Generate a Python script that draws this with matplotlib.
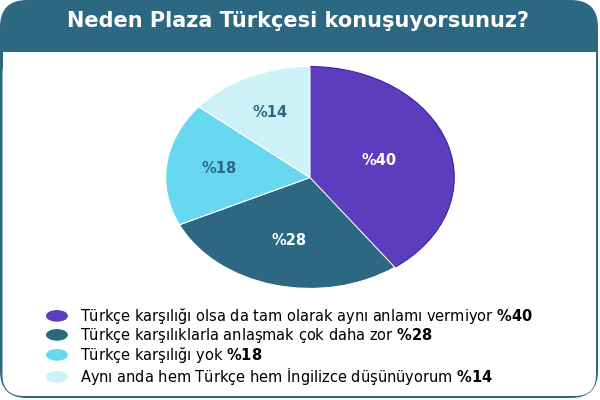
import numpy as np
import matplotlib.pyplot as plt
from matplotlib.patches import FancyBboxPatch, Rectangle, Ellipse
from matplotlib.legend_handler import HandlerPatch

plt.rcParams['font.family'] = ['DejaVu Sans']
plt.rcParams['mathtext.fontset'] = 'custom'
plt.rcParams['mathtext.rm'] = 'DejaVu Sans'
plt.rcParams['mathtext.bf'] = 'DejaVu Sans:bold'

title = "Neden Plaza Türkçesi konuşuyorsunuz?"
reasons = [
    "Türkçe karşılığı olsa da tam olarak aynı anlamı vermiyor",
    "Türkçe karşılıklarla anlaşmak çok daha zor",
    "Türkçe karşılığı yok",
    "Aynı anda hem Türkçe hem İngilizce düşünüyorum",
]
shares = [40, 28, 18, 14]
colors = ["#5C3DBE", "#2D6882", "#67D8F0", "#CCF2F8"]
label_colors = ["white", "white", "#2D6882", "#2D6882"]

W, H = 600, 400
fig = plt.figure(figsize=(6, 4), dpi=100)
fig.patch.set_facecolor("white")


def box(x0, y0, x1, y1):
    # pixel box (top-left origin) -> figure fractions
    return x0 / W, 1 - y1 / H, (x1 - x0) / W, (y1 - y0) / H


# card: teal outer shape, white body on top
x, y, w, h = box(0, 0, 598, 398)
fig.patches.append(FancyBboxPatch((x, y), w, h, boxstyle="round,pad=0,rounding_size=0.045",
                                  transform=fig.transFigure, facecolor="#2D6882",
                                  edgecolor="none", mutation_aspect=1.5, zorder=-3))
x, y, w, h = box(2.5, 52, 596, 396)
fig.patches.append(FancyBboxPatch((x, y), w, h, boxstyle="round,pad=0,rounding_size=0.035",
                                  transform=fig.transFigure, facecolor="white",
                                  edgecolor="none", mutation_aspect=1.5, zorder=-2))
x, y, w, h = box(2.5, 52, 596, 100)
fig.patches.append(Rectangle((x, y), w, h, transform=fig.transFigure,
                             facecolor="white", edgecolor="none", zorder=-2))
fig.text(0.497, 1 - 21 / H, title, color="white", fontsize=15, fontweight="bold",
         ha="center", va="center")

# pie (stretched ellipse)
ax = fig.add_axes(box(165, 66, 455, 289))
ax.set_zorder(2)
wedges, texts, autotexts = ax.pie(
    shares, colors=colors, startangle=90, counterclock=False,
    autopct=lambda p: f"%{p:.0f}", pctdistance=0.57,
    wedgeprops=dict(edgecolor="white", linewidth=0.8),
    textprops=dict(fontsize=10.5, fontweight="bold"),
)
wedges[0].set_edgecolor("#3A20A8")
# labels sit at the centroid of each sector
for wd, t, c in zip(wedges, autotexts, label_colors):
    t.set_color(c)
    span = np.radians(abs(wd.theta2 - wd.theta1))
    mid = np.radians((wd.theta1 + wd.theta2) / 2)
    d = 4 * np.sin(span / 2) / (3 * span)
    t.set_position((d * np.cos(mid), d * np.sin(mid)))
ax.set_aspect("auto")
ax.set_xlim(-1.005, 1.005)
ax.set_ylim(-1.005, 1.005)


class HandlerEllipse(HandlerPatch):
    def create_artists(self, legend, orig_handle, xdescent, ydescent, width, height, fontsize, trans):
        center = 0.5 * width - xdescent, 0.5 * height - ydescent
        p = Ellipse(xy=center, width=width, height=height * 1.2)
        self.update_prop(p, orig_handle, legend)
        p.set_edgecolor("none")
        p.set_transform(trans)
        return [p]


labels = [f"{r} " + r"$\bf{\%" + str(s) + "}$" for r, s in zip(reasons, shares)]
leg = fig.legend(wedges, labels, loc="upper left", bbox_to_anchor=(46 / W, 1 - 306 / H),
                 frameon=False, fontsize=10.5, handlelength=1.5, handleheight=0.65,
                 handletextpad=0.8, labelspacing=0.0, borderpad=0, borderaxespad=0,
                 handler_map={type(wedges[0]): HandlerEllipse()})
leg.set_zorder(3)

fig.savefig("out.png", dpi=100)
